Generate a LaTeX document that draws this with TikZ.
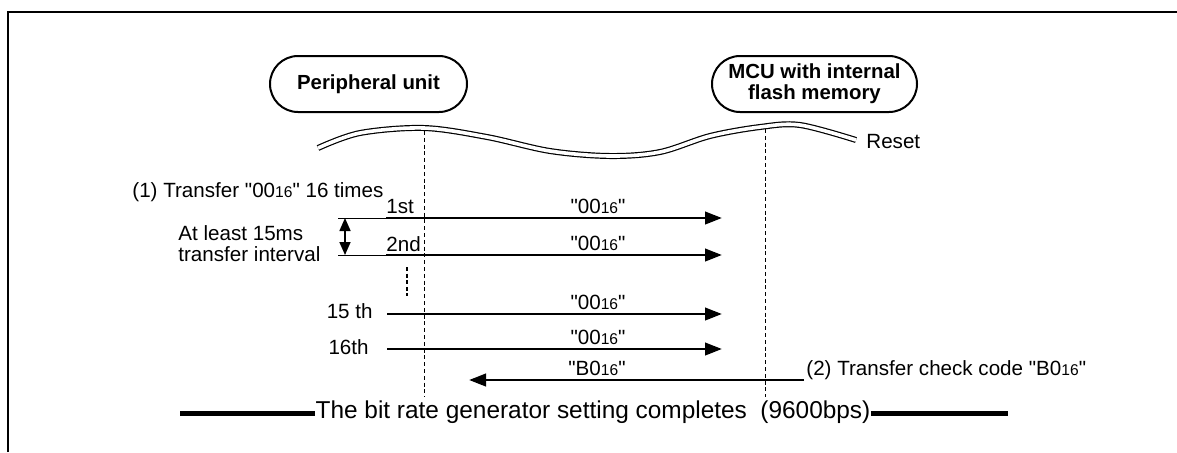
\documentclass[tikz,border=0pt]{standalone}
\usepackage{fontspec}
\setmainfont{Liberation Sans}
\newfontfamily\plainsans{Liberation Sans}
\usetikzlibrary{arrows.meta}
\newcommand{\hexsub}[1]{{\fontsize{7.8}{7.8}\selectfont #1}}
\begin{document}
\begin{tikzpicture}[x=0.5pt,y=-0.5pt,
  txt/.style={inner sep=0pt, font=\plainsans\fontsize{10.3}{12}\selectfont},
  unitbox/.style={draw, line width=1pt, rounded corners=14pt, minimum height=28pt,
    inner sep=0pt, align=center, font=\plainsans\fontsize{10.2}{10.6}\selectfont\bfseries},
  msg/.style={line width=1.4pt, -{Triangle[length=8.5pt,width=6.2pt]}},
  life/.style={line width=0.35pt, dash pattern=on 2pt off 1.4pt},
  dimline/.style={line width=0.5pt},
  dimarrow/.style={line width=0.8pt, {Triangle[length=6.5pt,width=5.5pt]}-{Triangle[length=6.5pt,width=5.5pt]}},
  dots/.style={line width=0.8pt, dash pattern=on 2pt off 1.3pt},
  bar/.style={line width=2.3pt},
  wave/.style={line width=0.6pt, double, double distance=1.8pt}
]
\useasboundingbox (0,0) rectangle (1177,452);
% frame
\draw[line width=1.2pt] (8,452) -- (8,11.8) -- (1177,11.8);

% units
\node[unitbox, minimum width=98.5pt] (pu) at (368.5,84) {Peripheral unit};
\node[unitbox, minimum width=102.5pt] (mcu) at (814.5,84) {MCU with internal\\flash memory};

% lifelines
\coordinate (puTop) at (424,131);
\coordinate (puBot) at (424,397);
\coordinate (mcuTop) at (765,129);
\coordinate (mcuBot) at (765,397);
\draw[life] (puTop) -- (puBot);
\draw[life] (mcuTop) -- (mcuBot);

% reset wave
\draw[wave] plot[smooth, tension=0.55] coordinates {(318,148) (360,133) (424,128) (487,137) (550,151) (610,156) (660,152) (710,136) (760,127) (800,125) (856,140)};
\node[txt, anchor=base west] (reset) at (866,148) {Reset};

% step (1)
\node[txt, anchor=base west] (step1) at (132,197) {(1) Transfer "00\hexsub{16}" 16 times};
\node[txt, anchor=base west] (least) at (178,240) {At least 15ms};
\node[txt, anchor=base west] (interval) at (178,261) {transfer interval};

\node[txt, anchor=base west] (n1) at (386,213) {1st};
\node[txt, anchor=base west] (n2) at (386,251) {2nd};
\node[txt, anchor=base east] (n15) at (373,318) {15 th};
\node[txt, anchor=base east] (n16) at (369,354) {16th};

\coordinate (a1s) at (386,218); \coordinate (a1e) at (722,218);
\coordinate (a2s) at (386,255); \coordinate (a2e) at (722,255);
\coordinate (a15s) at (387,314); \coordinate (a15e) at (722,314);
\coordinate (a16s) at (387,349); \coordinate (a16e) at (722,349);
\coordinate (bs) at (804,380); \coordinate (be) at (469,380);

\draw[msg] (a1s) -- (a1e);
\draw[msg] (a2s) -- (a2e);
\draw[msg] (a15s) -- (a15e);
\draw[msg] (a16s) -- (a16e);
\draw[msg] (bs) -- (be);

\node[txt, anchor=base] (l1) at (598,213) {"00\hexsub{16}"};
\node[txt, anchor=base] (l2) at (598,250) {"00\hexsub{16}"};
\node[txt, anchor=base] (l15) at (598,309) {"00\hexsub{16}"};
\node[txt, anchor=base] (l16) at (598,344) {"00\hexsub{16}"};
\node[txt, anchor=base] (lb) at (597,375) {"B0\hexsub{16}"};

% interval dimension
\coordinate (d1) at (338,218);
\coordinate (d2) at (338,255);
\coordinate (dA) at (345,218);
\coordinate (dB) at (345,255);
\draw[dimline] (d1) -- (a1s);
\draw[dimline] (d2) -- (a2s);
\draw[dimarrow] (dA) -- (dB);

% continuation dots
\coordinate (v1) at (407,267);
\coordinate (v2) at (407,296);
\draw[dots] (v1) -- (v2);

% step (2)
\node[txt, anchor=base west] (step2) at (806,375) {(2) Transfer check code "B0\hexsub{16}"};

% completion
\node[inner sep=0pt, font=\plainsans\fontsize{12.2}{14}\selectfont, anchor=base] (done) at (593,418) {The bit rate generator setting completes\ \ (9600bps)};
\coordinate (barL) at (180,413.5);
\coordinate (barR) at (1008,413.5);
\draw[bar] (barL) -- (barL -| done.west);
\draw[bar] (done.east |- barR) -- (barR);
\end{tikzpicture}
\end{document}
